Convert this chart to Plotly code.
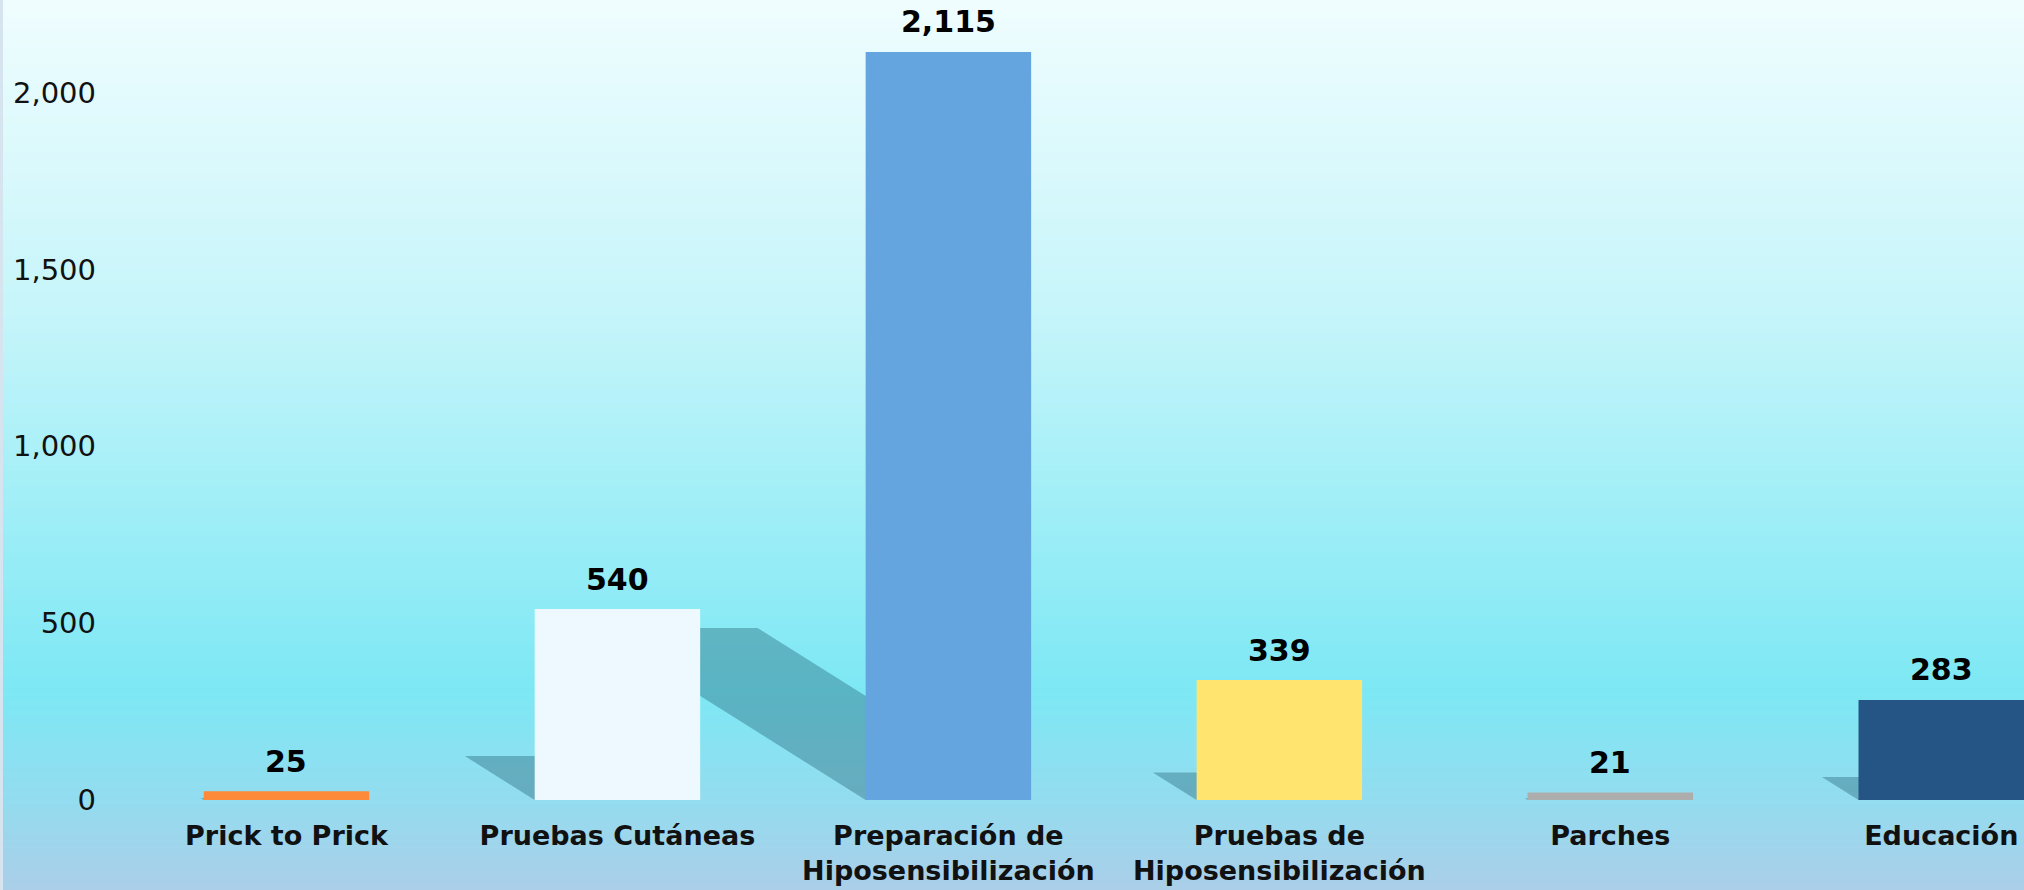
import plotly.graph_objects as go

categories = ["Prick to Prick", "Pruebas Cutáneas", "Preparación de<br>Hiposensibilización",
              "Pruebas de<br>Hiposensibilización", "Parches", "Educación"]
values = [25, 540, 2115, 339, 21, 283]
bar_colors = ["#fd8a3b", "#edf9fe", "#64a5e0", "#ffe470", "#adadad", "#255584"]
value_labels = ["25", "540", "2,115", "339", "21", "283"]
y_tickvals = [0, 500, 1000, 1500, 2000]
y_ticktext = ["0", "500", "1,000", "1,500", "2,000"]

W, H = 2024, 890
ML, MR, MT, MB = 121, 0, 0, 90
X_RANGE = [-0.5, 5.25]
Y_RANGE = [0, 2262]
BAR_W = 0.5
SHADOW_H = 0.23      # shadow height relative to bar height
SHADOW_SLANT = 1.59  # horizontal px per vertical px of shadow
FONT = "DejaVu Sans"

plot_w = W - ML - MR
plot_h = H - MT - MB
px_per_x = plot_w / (X_RANGE[1] - X_RANGE[0])
px_per_y = plot_h / (Y_RANGE[1] - Y_RANGE[0])

fig = go.Figure()

# background gradient (paper coords, full figure)
stops = [(0, (240, 253, 254)), (311, (198, 245, 250)), (690, (125, 232, 244)),
         (800, (147, 220, 239)), (890, (171, 206, 233))]

def col_at(p):
    for (p0, c0), (p1, c1) in zip(stops[:-1], stops[1:]):
        if p0 <= p <= p1:
            t = (p - p0) / (p1 - p0)
            return tuple(round(a + (b - a) * t) for a, b in zip(c0, c1))
    return stops[-1][1]

shapes = []
step = 3
for p in range(0, H, step):
    c = col_at(p + step / 2)
    y_top = (plot_h + MT - p) / plot_h
    y_bot = (plot_h + MT - p - step - 0.5) / plot_h
    shapes.append(dict(type="rect", xref="paper", yref="paper",
                       x0=-ML / plot_w, x1=1.0, y0=y_bot, y1=y_top,
                       line=dict(width=0), fillcolor=f"rgb({c[0]},{c[1]},{c[2]})",
                       layer="below"))
# left strip
shapes.append(dict(type="rect", xref="paper", yref="paper",
                   x0=-ML / plot_w, x1=-(ML - 3) / plot_w, y0=-MB / plot_h, y1=1,
                   line=dict(width=0), fillcolor="rgb(214,228,240)", layer="below"))

# shadows
for i, v in enumerate(values):
    hs = SHADOW_H * v
    dx = SHADOW_SLANT * hs * px_per_y / px_per_x
    x0, x1 = i - BAR_W / 2, i + BAR_W / 2
    path = (f"M {x0} 0 L {x1} 0 L {x1 - dx} {hs} L {x0 - dx} {hs} Z")
    shapes.append(dict(type="path", xref="x", yref="y", path=path,
                       fillcolor="rgba(20,80,100,0.34)", line=dict(width=0),
                       layer="below"))

fig.add_trace(go.Bar(
    x=list(range(len(categories))), y=values, width=BAR_W,
    marker=dict(color=bar_colors, line=dict(width=0)),
    hoverinfo="skip", showlegend=False,
))

annotations = []
for i, (v, t) in enumerate(zip(values, value_labels)):
    annotations.append(dict(x=i, y=v, xref="x", yref="y", text=f"<b>{t}</b>",
                            showarrow=False, yanchor="middle", yshift=30,
                            font=dict(family=FONT, size=30, color="#000000")))

fig.update_layout(
    width=W, height=H,
    margin=dict(l=ML, r=MR, t=MT, b=MB),
    paper_bgcolor="rgb(171,206,233)",
    plot_bgcolor="rgba(0,0,0,0)",
    shapes=shapes,
    annotations=annotations,
    xaxis=dict(range=X_RANGE, tickvals=list(range(len(categories))),
               ticktext=[f"<b>{c}</b>" for c in categories],
               showgrid=False, zeroline=False, showline=False, ticks="",
               tickfont=dict(family=FONT, size=27, color="#111111"),
               ticklabelstandoff=17, fixedrange=True),
    yaxis=dict(range=Y_RANGE, tickvals=y_tickvals, ticktext=y_ticktext,
               showgrid=False, zeroline=False, showline=False, ticks="",
               tickfont=dict(family=FONT, size=29, color="#111111"),
               ticklabelstandoff=24, fixedrange=True),
    font=dict(family=FONT),
)

fig.write_html("out.html", config={"displayModeBar": False},
               post_script="document.body.style.margin='0px';document.body.style.overflow='hidden';")
